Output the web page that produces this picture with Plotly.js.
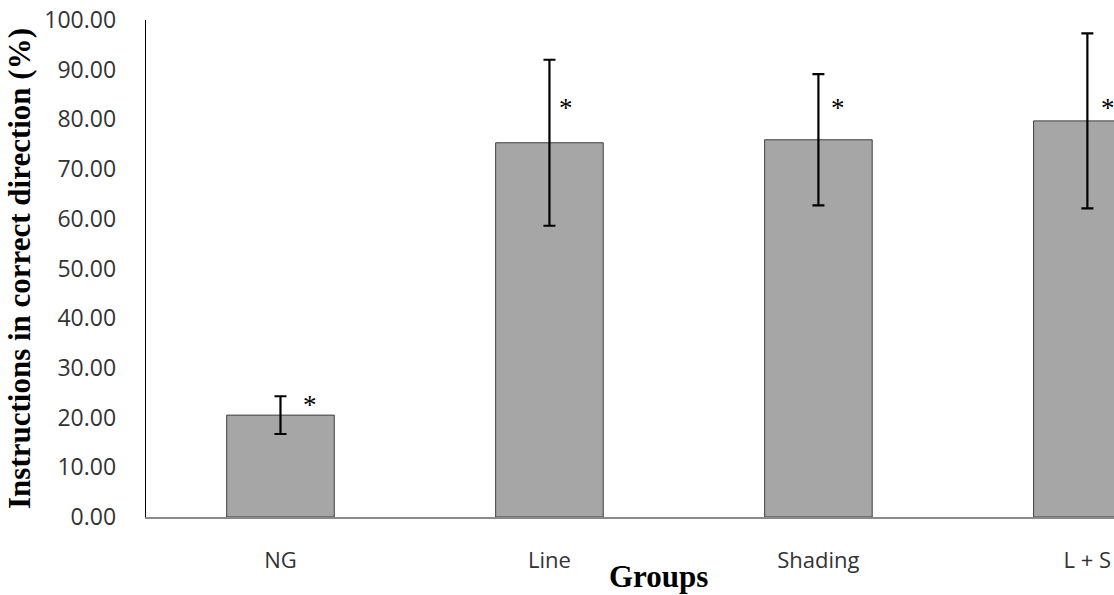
<!DOCTYPE html>
<html>
<head>
<meta charset="utf-8">
<script src="https://cdn.plot.ly/plotly-3.0.1.min.js"></script>
<style>html,body{margin:0;padding:0;background:#fff;}#chart{width:1114px;height:595px;}</style>
</head>
<body>
<div id="chart"></div>
<script>
// Data
const groups = ["NG", "Line", "Shading", "L + S"];
const meanPct = [20.5, 75.3, 75.9, 79.7];
const errPct = [3.8, 16.7, 13.2, 17.6];
const sigMarkY = [23.2, 82.8, 82.8, 82.8];
const sigMarkShift = [30, 17, 20, 21];
const yTickVals = [0, 10, 20, 30, 40, 50, 60, 70, 80, 90, 100];

const W = 1114, H = 595, ML = 146, MR = 0, MT = 20, MB = 78;

const trace = {
  type: "bar",
  x: groups,
  y: meanPct,
  width: 0.4,
  marker: {color: "#a6a6a6", line: {color: "#3f3f3f", width: 1}},
  error_y: {type: "data", array: errPct, visible: true, color: "#000000", thickness: 2.2, width: 6},
  hoverinfo: "skip"
};

const annotations = groups.map((g, i) => ({
  x: i, y: sigMarkY[i], xref: "x", yref: "y",
  text: "*", showarrow: false, xshift: sigMarkShift[i], yshift: -3,
  font: {family: "Liberation Serif", size: 27, color: "#000"}
}));
annotations.push({
  x: (658 - ML) / (W - ML - MR),
  y: -(576 - (H - MB)) / (H - MT - MB),
  xref: "paper", yref: "paper", xanchor: "center", yanchor: "middle",
  text: "<b>Groups</b>", showarrow: false,
  font: {family: "Liberation Serif", size: 31, color: "#000"}
});

const layout = {
  width: W, height: H,
  margin: {l: ML, r: MR, t: MT, b: MB, pad: 0},
  paper_bgcolor: "#ffffff", plot_bgcolor: "#ffffff",
  showlegend: false,
  xaxis: {
    type: "category",
    range: [-0.5, 3.099],
    showline: true, linecolor: "#8a8a8a", linewidth: 1.5,
    showgrid: false, zeroline: false, ticks: "",
    ticklabelstandoff: 23,
    tickfont: {family: "Open Sans", size: 22, color: "#333"}
  },
  yaxis: {
    range: [0, 100],
    tickvals: yTickVals,
    tickformat: ".2f",
    showline: true, linecolor: "#000", linewidth: 1.3,
    showgrid: false, zeroline: false, ticks: "",
    ticklabelstandoff: 24,
    tickfont: {family: "Open Sans", size: 23, color: "#333"},
    title: {text: "<b>Instructions in correct direction (%)</b>", font: {family: "Liberation Serif", size: 31, color: "#000"}, standoff: 4}
  },
  annotations: annotations
};

Plotly.newPlot("chart", [trace], layout, {displayModeBar: false, staticPlot: true});
</script>
</body>
</html>
